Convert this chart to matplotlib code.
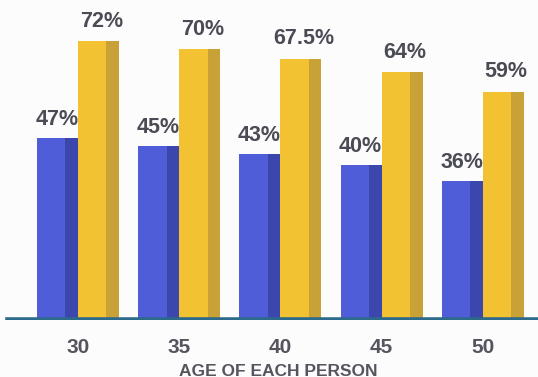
import matplotlib
matplotlib.use('Agg')
import matplotlib.pyplot as plt
from matplotlib import font_manager
import numpy as np

ages = ['30', '35', '40', '45', '50']
blue_vals = [47, 45, 43, 40, 36]
yellow_vals = [72, 70, 67.5, 64, 59]
blue_labels = ['47%', '45%', '43%', '40%', '36%']
yellow_labels = ['72%', '70%', '67.5%', '64%', '59%']

names = set(f.name for f in font_manager.fontManager.ttflist)
narrow = 'Liberation Sans Narrow' if 'Liberation Sans Narrow' in names else 'Liberation Sans'
lab_size = 17 if narrow == 'Liberation Sans Narrow' else 15.5

W, H = 538, 377
fig = plt.figure(figsize=(W / 100, H / 100), dpi=100)
fig.patch.set_facecolor('#fcfcfd')

base_px = 320
ax = fig.add_axes([0, (H - base_px) / H, 1, base_px / H])
ax.set_facecolor('none')

step = 101.2
x0 = 78
ax.set_xlim(-x0 / step, (W - x0) / step)
ax.set_ylim(0, base_px / 3.87)

x = np.arange(len(ages))
front_w = 0.28
side_w = 0.125

# blue bars: front face + darker side
ax.bar(x - side_w - front_w, blue_vals, width=front_w, align='edge', color='#4f5ed8', zorder=2)
ax.bar(x - side_w, blue_vals, width=side_w, align='edge', color='#3c47ad', zorder=2)
# yellow bars
ax.bar(x, yellow_vals, width=front_w + 0.01, align='edge', color='#f3c233', zorder=2)
ax.bar(x + front_w, yellow_vals, width=side_w, align='edge', color='#c8a236', zorder=2)

txt_col = '#4b4b55'
for i in range(len(ages)):
    ax.text(x[i] - 0.21, blue_vals[i] + 2.0, blue_labels[i], ha='center', va='bottom',
            fontsize=lab_size, fontweight='bold', color=txt_col, family=[narrow, 'DejaVu Sans'])
    ax.text(x[i] + 0.23, yellow_vals[i] + 2.4, yellow_labels[i], ha='center', va='bottom',
            fontsize=lab_size, fontweight='bold', color=txt_col, family=[narrow, 'DejaVu Sans'])

ax.axhline(0, xmin=8 / W, xmax=1, color='#2c6a8c', lw=4, zorder=3)

ax.set_xticks(x)
ax.set_xticklabels(ages, fontsize=15, fontweight='bold', color='#55555e', family='Liberation Sans')
ax.tick_params(axis='x', length=0, pad=13)
ax.set_yticks([])
for s in ax.spines.values():
    s.set_visible(False)

fig.text(278 / W, 1 - 371 / H, 'AGE OF EACH PERSON', ha='center', va='center',
         fontsize=12.5, fontweight='bold', color='#55555e', family='Liberation Sans')

fig.savefig('out.png', dpi=100, facecolor=fig.get_facecolor())
